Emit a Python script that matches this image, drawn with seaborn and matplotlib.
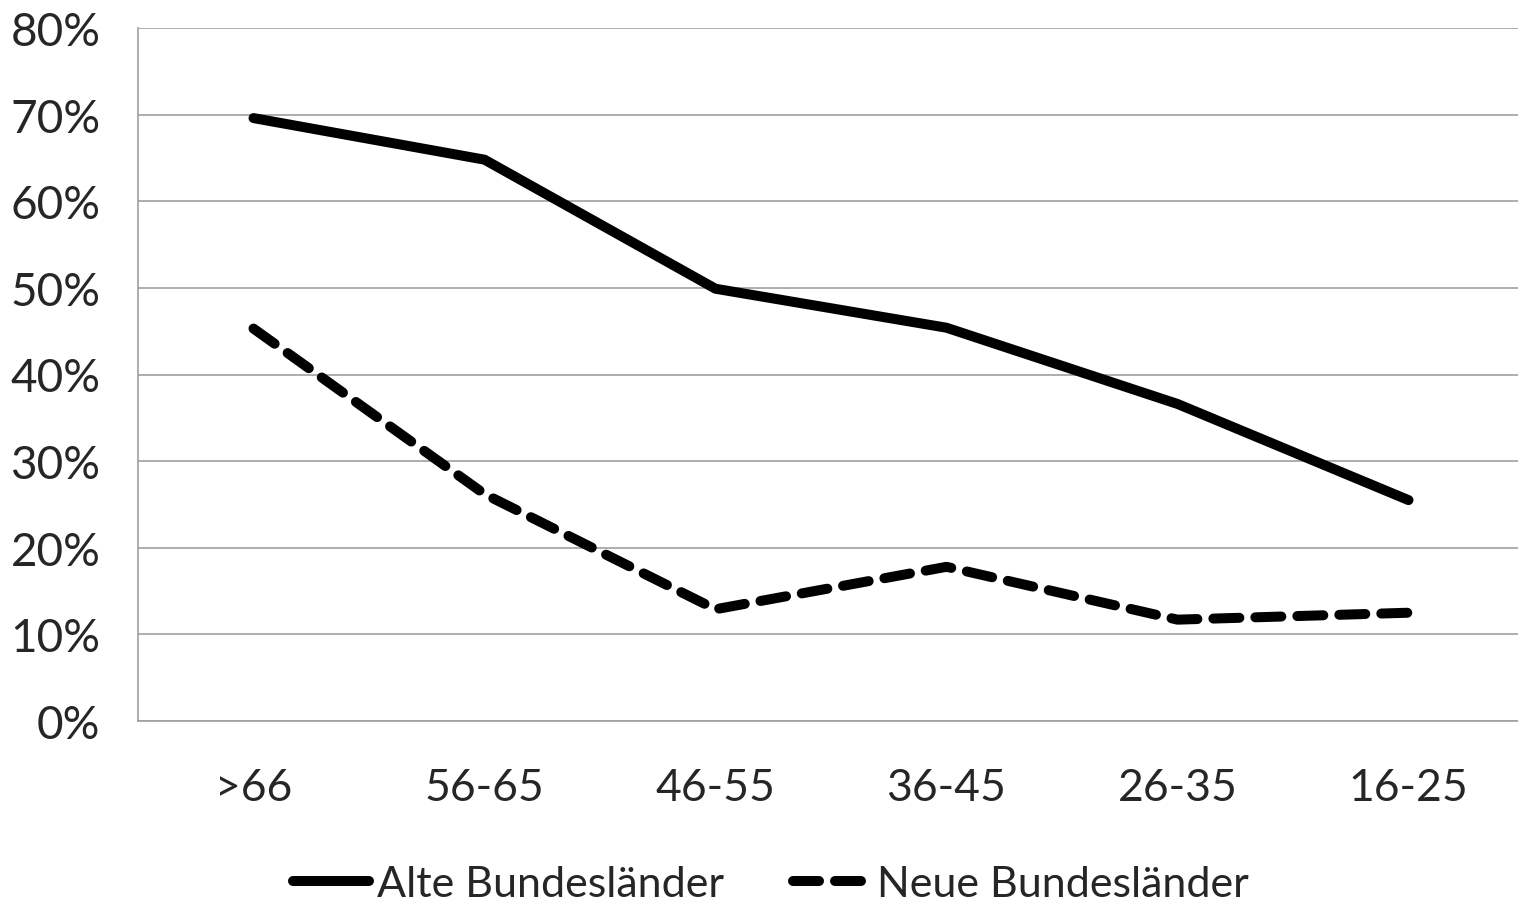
"""
Anteil nach Altersgruppen: Alte vs. Neue Bundesländer
"""

import pandas as pd
import matplotlib
matplotlib.use("Agg")
import matplotlib.pyplot as plt
import seaborn as sns

# Daten (in %)
altersgruppen = [">66", "56-65", "46-55", "36-45", "26-35", "16-25"]
alte_bundeslaender = [69.6, 64.8, 49.9, 45.4, 36.6, 25.5]
neue_bundeslaender = [45.3, 26.2, 12.9, 17.8, 11.7, 12.5]
serien = ["Alte Bundesländer", "Neue Bundesländer"]
y_ticks = [0, 10, 20, 30, 40, 50, 60, 70, 80]


def build_dataframe() -> pd.DataFrame:
    df = pd.DataFrame({
        "Altersgruppe": altersgruppen * 2,
        "Pos": list(range(len(altersgruppen))) * 2,
        "Wert": alte_bundeslaender + neue_bundeslaender,
        "Region": [serien[0]] * len(altersgruppen) + [serien[1]] * len(altersgruppen),
    })
    return df


def main() -> None:
    sns.set_style("white")
    plt.rcParams["font.family"] = ["Lato", "DejaVu Sans"]

    df = build_dataframe()

    fig = plt.figure(figsize=(15.18, 9.03), dpi=100)
    ax = fig.add_axes([138 / 1518, 1 - 722 / 903, 1386 / 1518, 693 / 903])

    sns.lineplot(
        data=df, x="Pos", y="Wert", hue="Region", style="Region",
        palette=["black", "black"],
        dashes={serien[0]: "", serien[1]: (2.6, 1.6)},
        linewidth=7.2, ax=ax, legend=False,
    )
    for line in ax.lines:
        line.set_solid_capstyle("round")
        line.set_dash_capstyle("round")

    ax.set_xlim(-0.5, len(altersgruppen) - 0.5)
    ax.set_ylim(0, 80)
    ax.set_yticks(y_ticks)
    ax.set_yticklabels([f"{t}%" for t in y_ticks])
    ax.set_xticks([i + 0.5 for i in range(-1, len(altersgruppen) - 1)])
    ax.set_xticklabels([])
    ax.set_xticks(range(len(altersgruppen)), minor=True)
    ax.set_xticklabels(altersgruppen, minor=True)
    ax.tick_params(axis="x", which="minor", length=0, pad=33, labelsize=32)
    ax.tick_params(axis="x", which="major", length=12, width=1.2, color="#a0a0a0")
    ax.tick_params(axis="y", length=12, width=1.2, color="#a0a0a0", pad=15, labelsize=33)

    ax.set_xlabel("")
    ax.set_ylabel("")
    ax.yaxis.grid(True, color="#a0a0a0", linewidth=1.2)
    ax.set_axisbelow(True)
    for side in ["top", "right"]:
        ax.spines[side].set_visible(False)
    for side in ["left", "bottom"]:
        ax.spines[side].set_color("#a0a0a0")
        ax.spines[side].set_linewidth(1.2)

    handles = [
        plt.Line2D([], [], color="black", linewidth=7.2, solid_capstyle="round"),
        plt.Line2D([], [], color="black", linewidth=7.2, dashes=(2.6, 1.6),
                   dash_capstyle="round"),
    ]
    fig.legend(
        handles, serien, loc="center", bbox_to_anchor=(771 / 1518, 1 - 885 / 903),
        ncol=2, frameon=False, fontsize=31, handlelength=1.75,
        handletextpad=0.2, columnspacing=1.6,
    )

    fig.savefig("out.png", dpi=100)


if __name__ == "__main__":
    main()
